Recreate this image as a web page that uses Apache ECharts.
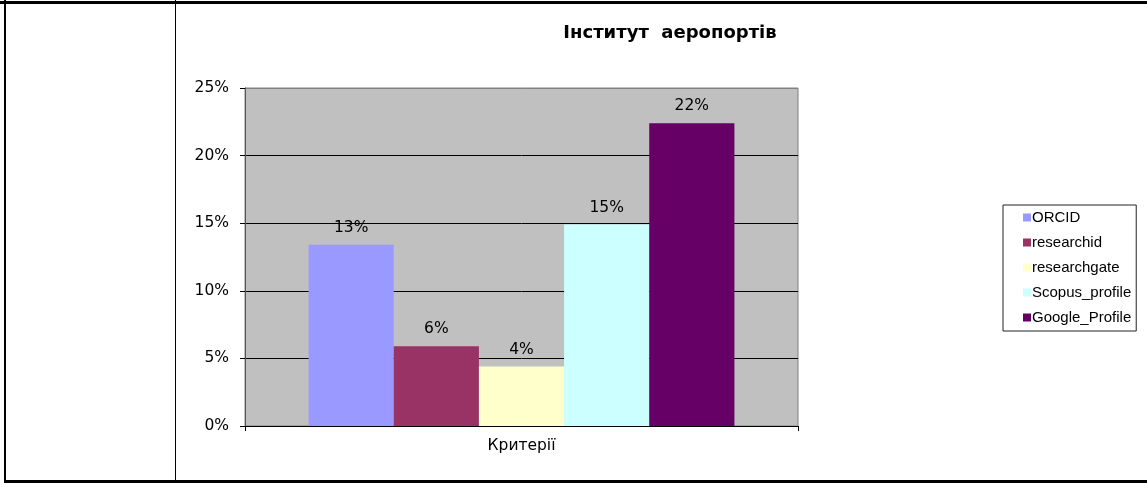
<!DOCTYPE html>
<html>
<head>
<meta charset="utf-8">
<script src="https://cdn.jsdelivr.net/npm/echarts@6/dist/echarts.min.js"></script>
<style>
html,body{margin:0;padding:0;background:#fff;}
#chart{width:1147px;height:483px;}
</style>
</head>
<body>
<div id="chart"></div>
<script>
const title = "Інститут  аеропортів";
const categories = ["Критерії"];
const seriesNames = ["ORCID", "researchid", "researchgate", "Scopus_profile", "Google_Profile"];
const seriesValues = [0.134, 0.059, 0.044, 0.149, 0.224];
const seriesColors = ["#9999FF", "#993366", "#FFFFCC", "#CCFFFF", "#660066"];
const yTicks = [0, 0.05, 0.10, 0.15, 0.20, 0.25];

const font = "Liberation Sans, Arial, sans-serif";
const wideFont = "DejaVu Sans, sans-serif";
const chart = echarts.init(document.getElementById('chart'));

const series = seriesNames.map((name, i) => ({
  name: name,
  type: 'bar',
  data: [seriesValues[i]],
  barGap: '0%',
  barCategoryGap: '23%',
  itemStyle: { color: seriesColors[i] },
  label: {
    show: true,
    position: 'top',
    distance: 9,
    color: '#000',
    fontFamily: wideFont,
    fontSize: 15.5,
    formatter: p => Math.round(p.value * 100) + '%'
  }
}));

chart.setOption({
  animation: false,
  title: {
    text: title,
    left: 670,
    top: 24,
    padding: 0,
    textAlign: 'center',
    textStyle: { fontFamily: wideFont, fontSize: 18, fontWeight: 'bold', color: '#000' }
  },
  grid: {
    left: 245, right: 349, top: 88, bottom: 57,
    show: true, backgroundColor: '#C0C0C0', borderColor: '#808080', borderWidth: 1
  },
  legend: {
    orient: 'vertical',
    left: 1003, top: 205,
    width: 136,
    padding: [5, 5, 6, 20],
    itemGap: 10,
    itemWidth: 8, itemHeight: 8,
    icon: 'rect',
    borderColor: '#222', borderWidth: 1,
    textStyle: { fontFamily: font, fontSize: 15, color: '#000', lineHeight: 15, padding: [0, 0, 0, -4] },
    data: seriesNames
  },
  xAxis: {
    type: 'category',
    data: categories,
    axisLine: { lineStyle: { color: '#000' } },
    axisTick: { show: true, length: 5, lineStyle: { color: '#000' } },
    axisLabel: { fontFamily: wideFont, fontSize: 15.5, color: '#000', margin: 12 }
  },
  yAxis: {
    type: 'value',
    min: 0, max: 0.25, interval: 0.05,
    axisLine: { show: true, lineStyle: { color: '#555' } },
    axisTick: { show: true, length: 5, lineStyle: { color: '#000' } },
    axisLabel: {
      fontFamily: wideFont, fontSize: 15.5, color: '#000', margin: 16,
      formatter: v => yTicks.includes(Math.round(v*100)/100) ? Math.round(v * 100) + '%' : ''
    },
    splitLine: { show: true, lineStyle: { color: ['#000', '#000', '#000', '#000', '#000', '#808080'], width: 1 } }
  },
  graphic: [
    { type: 'rect', shape: { x: 0, y: 1, width: 1147, height: 3 }, style: { fill: '#000' }, silent: true },
    { type: 'rect', shape: { x: 4, y: 0, width: 2, height: 483 }, style: { fill: '#000' }, silent: true },
    { type: 'rect', shape: { x: 175, y: 0, width: 1, height: 483 }, style: { fill: '#000' }, silent: true },
    { type: 'rect', shape: { x: 4, y: 480, width: 1143, height: 3 }, style: { fill: '#000' }, silent: true }
  ],
  series: series
});
</script>
</body>
</html>
